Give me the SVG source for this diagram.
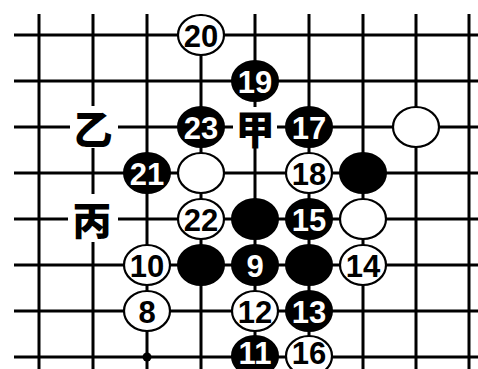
<svg xmlns="http://www.w3.org/2000/svg" width="478" height="369" viewBox="0 0 478 369">
<style>
.g{stroke:#000;stroke-width:3;fill:none}
.b{fill:#000;stroke:#000;stroke-width:2}
.w{fill:#fff;stroke:#000;stroke-width:2.2}
.n{font-family:"Liberation Sans",Arial,sans-serif;font-weight:bold;font-size:31px;text-anchor:middle;dominant-baseline:central}
.nb{fill:#fff}
.nw{fill:#000}
.k{font-family:"Noto Sans CJK SC","Noto Sans CJK JP",sans-serif;font-weight:900;font-size:39px;text-anchor:middle;dominant-baseline:central;fill:#000}
</style>
<rect width="478" height="369" fill="#fff"/>
<g id="grid" class="g">
<path d="M39 14V369M93 14V369M147 14V369M201 14V369M255 14V369M309 14V369M363 14V369M416 14V369M469 14V369"/>
<path d="M14 35H478M14 81H478M14 127H478M14 173H478M14 219H478M14 265H478M14 311H478M14 357H478"/>
</g>
<circle id="hoshi" cx="147" cy="357" r="4.5" fill="#000"/>
<g id="label-yi"><rect x="70" y="106" width="48" height="42" fill="#fff"/><text class="k" x="93" y="127">乙</text></g>
<g id="label-jia"><rect x="233" y="107" width="44" height="40" fill="#fff"/><text class="k" x="255" y="127">甲</text></g>
<g id="label-bing"><rect x="68" y="194" width="50" height="48" fill="#fff"/><text class="k" x="92" y="218">丙</text></g>
<g id="s20"><ellipse class="w" cx="201" cy="35" rx="23" ry="20"/><text class="n nw" x="201" y="36">20</text></g>
<g id="s19"><ellipse class="b" cx="255" cy="81" rx="23" ry="20"/><text class="n nb" x="255" y="82">19</text></g>
<g id="s23"><ellipse class="b" cx="201" cy="127" rx="23" ry="20"/><text class="n nb" x="201" y="128">23</text></g>
<g id="s17"><ellipse class="b" cx="309" cy="127" rx="23" ry="20"/><text class="n nb" x="309" y="128">17</text></g>
<g id="wA"><ellipse class="w" cx="416" cy="127" rx="23" ry="20"/></g>
<g id="s21"><ellipse class="b" cx="147" cy="173" rx="23" ry="20"/><text class="n nb" x="147" y="174">21</text></g>
<g id="wB"><ellipse class="w" cx="201" cy="173" rx="23" ry="20"/></g>
<g id="s18"><ellipse class="w" cx="309" cy="173" rx="23" ry="20"/><text class="n nw" x="309" y="174">18</text></g>
<g id="bA"><ellipse class="b" cx="363" cy="173" rx="23" ry="20"/></g>
<g id="s22"><ellipse class="w" cx="201" cy="219" rx="23" ry="20"/><text class="n nw" x="201" y="220">22</text></g>
<g id="bB"><ellipse class="b" cx="255" cy="219" rx="23" ry="20"/></g>
<g id="s15"><ellipse class="b" cx="309" cy="219" rx="23" ry="20"/><text class="n nb" x="309" y="220">15</text></g>
<g id="wC"><ellipse class="w" cx="363" cy="219" rx="23" ry="20"/></g>
<g id="s10"><ellipse class="w" cx="147" cy="265" rx="23" ry="20"/><text class="n nw" x="147" y="266">10</text></g>
<g id="bC"><ellipse class="b" cx="201" cy="265" rx="23" ry="20"/></g>
<g id="s9"><ellipse class="b" cx="255" cy="265" rx="23" ry="20"/><text class="n nb" x="255" y="266">9</text></g>
<g id="bD"><ellipse class="b" cx="309" cy="265" rx="23" ry="20"/></g>
<g id="s14"><ellipse class="w" cx="363" cy="265" rx="23" ry="20"/><text class="n nw" x="363" y="266">14</text></g>
<g id="s8"><ellipse class="w" cx="147" cy="311" rx="23" ry="20"/><text class="n nw" x="147" y="312">8</text></g>
<g id="s12"><ellipse class="w" cx="255" cy="311" rx="23" ry="20"/><text class="n nw" x="255" y="312">12</text></g>
<g id="s13"><ellipse class="b" cx="309" cy="311" rx="23" ry="20"/><text class="n nb" x="309" y="312">13</text></g>
<g id="s11"><ellipse class="b" cx="255" cy="356" rx="23" ry="20"/><text class="n nb" x="255" y="353">11</text></g>
<g id="s16"><ellipse class="w" cx="309" cy="356" rx="23" ry="20"/><text class="n nw" x="309" y="353">16</text></g>
</svg>
